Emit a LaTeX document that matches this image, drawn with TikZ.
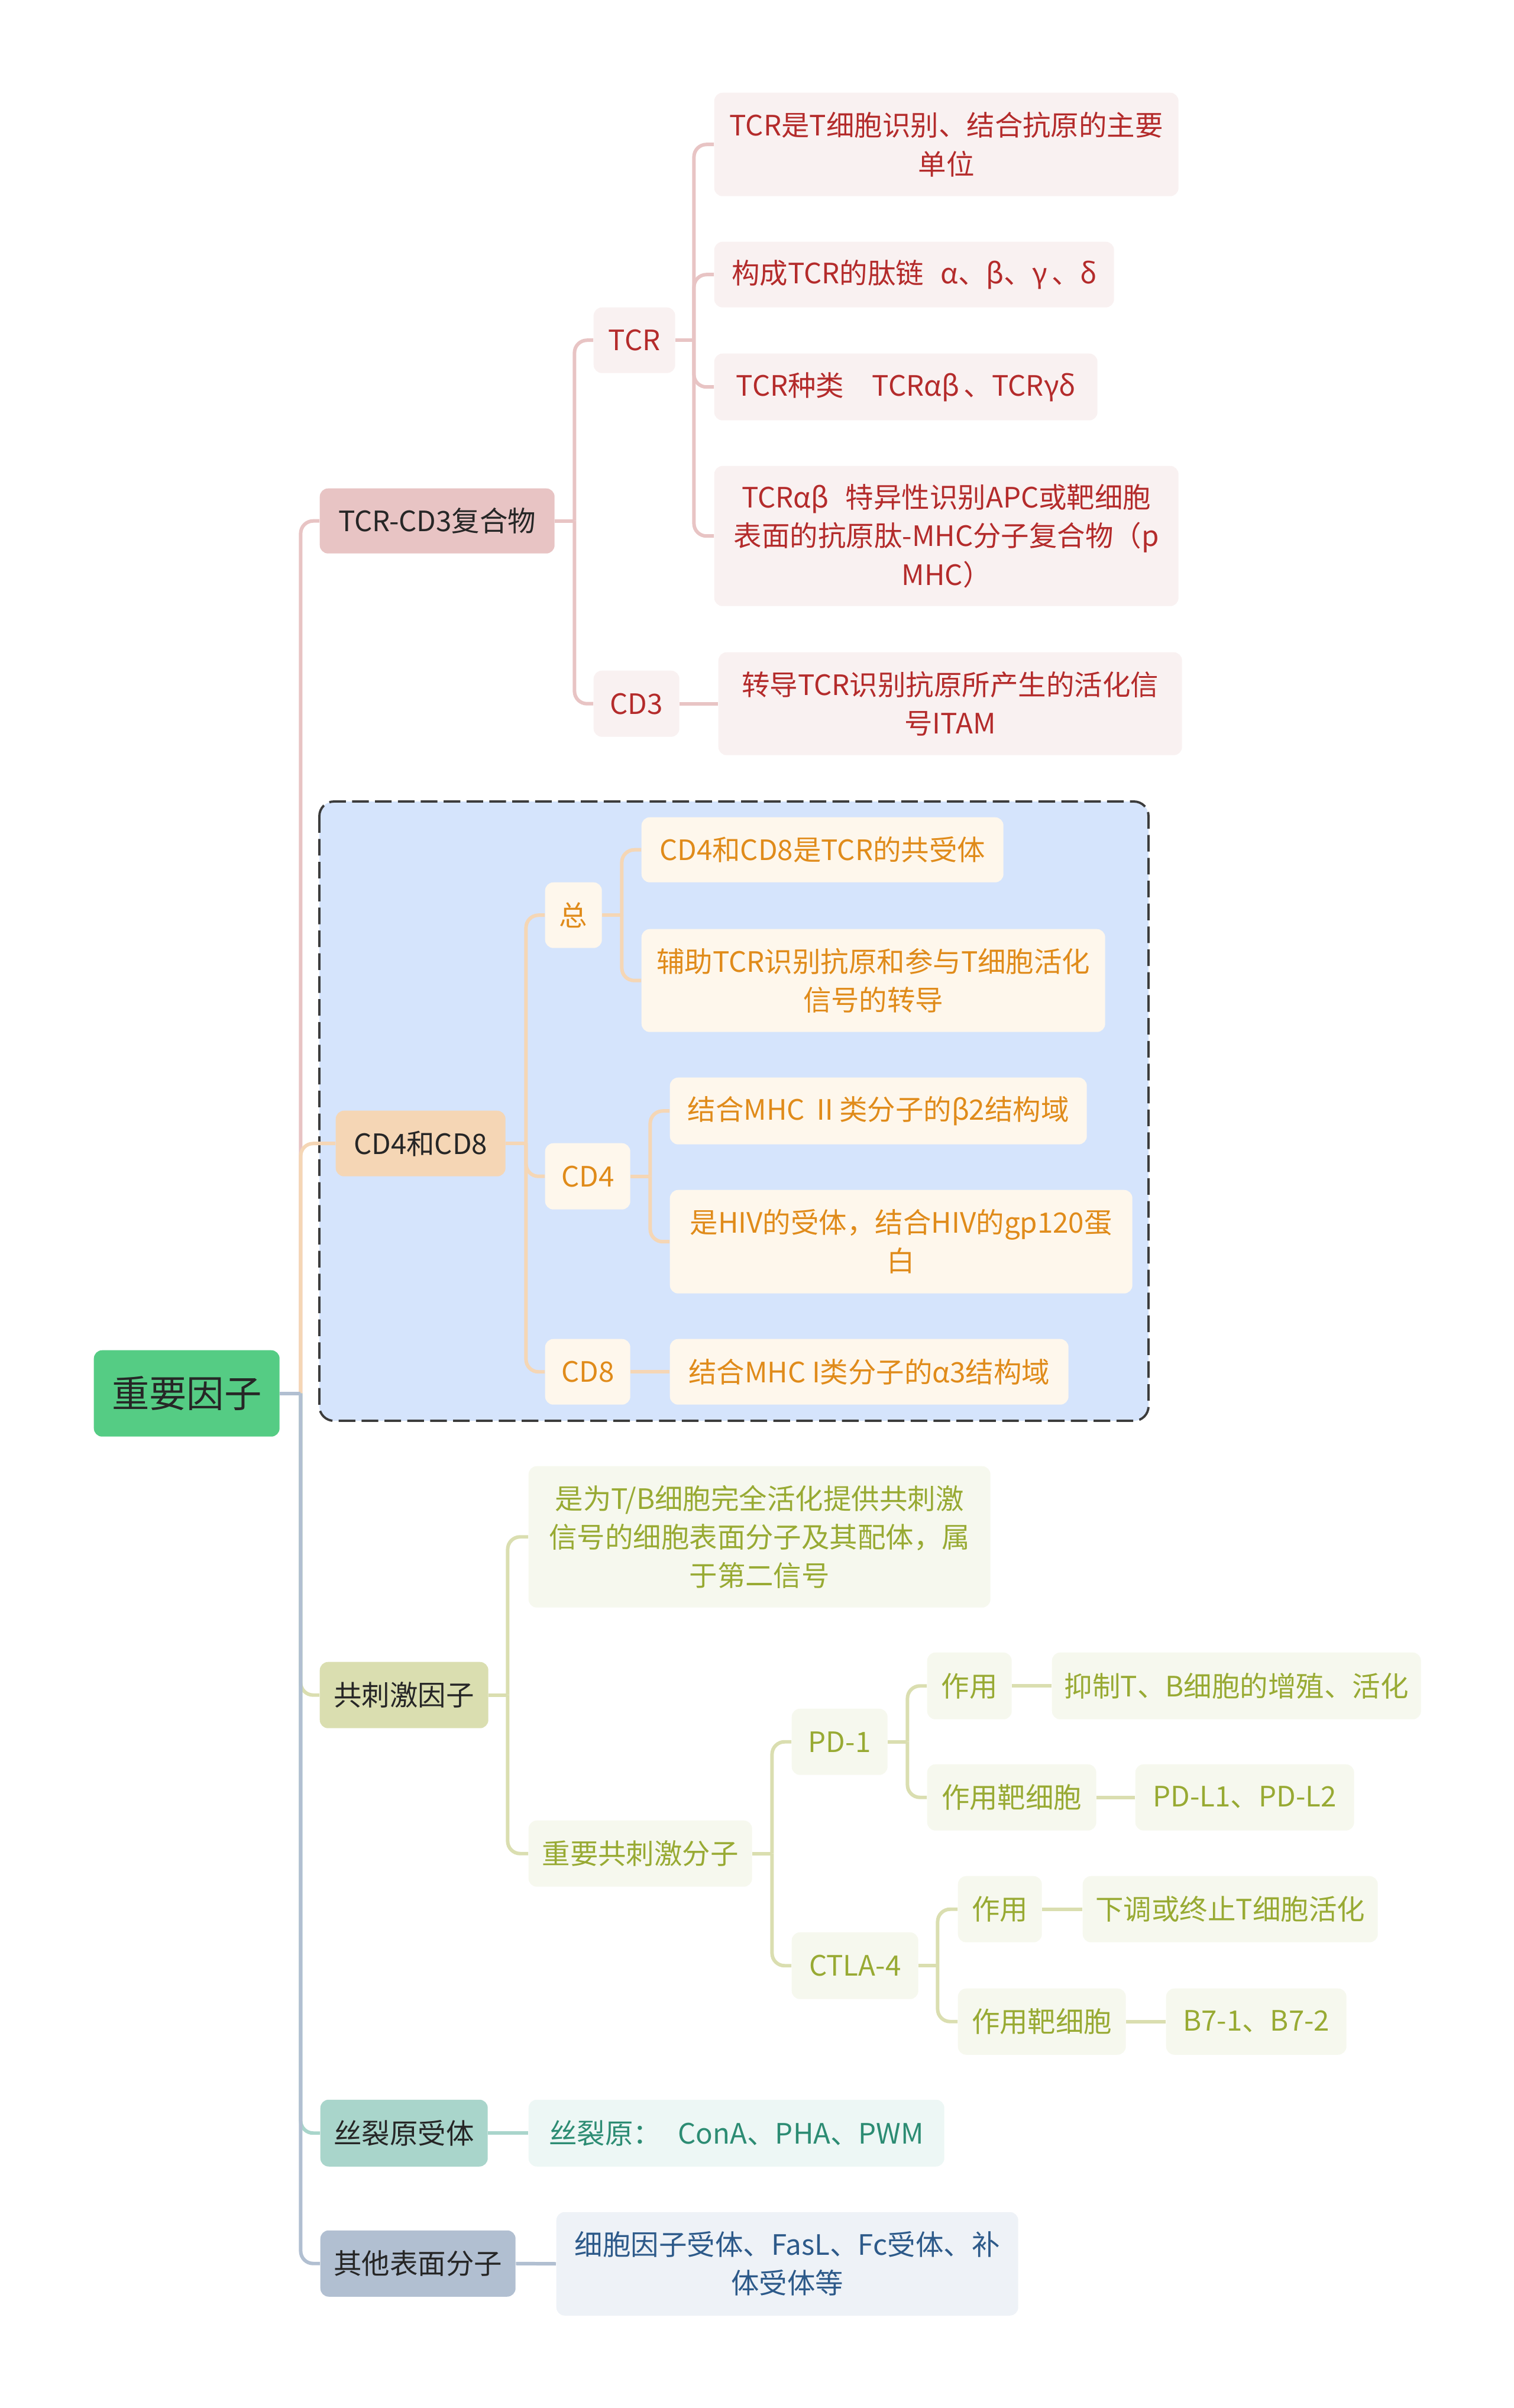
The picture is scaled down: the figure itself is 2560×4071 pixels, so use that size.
\documentclass[tikz,border=0pt]{standalone}
\usepackage{fontspec}
\setmainfont{Noto Sans CJK SC}
\usetikzlibrary{calc}
\definecolor{ink}{HTML}{262626}
\definecolor{rootG}{HTML}{55CC84}
\definecolor{pkD}{HTML}{E8C4C4}\definecolor{pkL}{HTML}{F9F1F1}\definecolor{pkT}{HTML}{B42B2B}
\definecolor{orD}{HTML}{F5D6B5}\definecolor{orL}{HTML}{FEF7EC}\definecolor{orT}{HTML}{E08B1A}
\definecolor{olD}{HTML}{DADEB0}\definecolor{olL}{HTML}{F6F8EE}\definecolor{olT}{HTML}{98AA33}
\definecolor{tlD}{HTML}{A9D5CB}\definecolor{tlL}{HTML}{EDF7F5}\definecolor{tlT}{HTML}{2C8C73}
\definecolor{blD}{HTML}{B1BFD1}\definecolor{blL}{HTML}{EEF2F7}\definecolor{blT}{HTML}{2D5A8A}
\definecolor{regionF}{HTML}{D5E4FC}

\begin{document}
\begin{tikzpicture}[x=0.01cm, y=-0.01cm, font=\fontsize{13.5}{18.5}\selectfont,
		nbox/.style={rounded corners=4pt, inner sep=0pt, align=center, anchor=north west},
		sz/.style 2 args={minimum width=#1*0.01cm, minimum height=#2*0.01cm},
		rootbox/.style={nbox, fill=rootG, text=ink, font=\fontsize{18}{22}\selectfont},
		catbox/.style={nbox, fill=#1, text=ink},
		leafbox/.style 2 args={nbox, fill=#1, text=#2},
		redleaf/.style={leafbox={pkL}{pkT}},
		orgleaf/.style={leafbox={orL}{orT}},
		olvleaf/.style={leafbox={olL}{olT}},
		tealleaf/.style={leafbox={tlL}{tlT}},
		blueleaf/.style={leafbox={blL}{blT}},
		link/.style={draw=#1, line width=1.7pt, rounded corners=6pt},
		regionbox/.style={fill=regionF, draw=ink!90, line width=1.1pt, dash pattern=on 8pt off 3pt, rounded corners=7pt}]
	\useasboundingbox (0,0) rectangle (2560,4071);
	% dashed group behind CD4/CD8
	\draw[regionbox] (540,1355) rectangle (1942,2402);
	% root
	\node[rootbox, sz={314}{146}] (root) at (158,2282) {重要因子};
	% TCR-CD3
	\node[catbox=pkD, sz={397}{110}] (tcd) at (540,825) {TCR-CD3复合物};
	\node[redleaf, sz={138}{111}] (tcr) at (1003,519) {TCR};
	\node[redleaf, sz={145}{112}] (cd3) at (1003,1133) {CD3};
	\node[redleaf, sz={785}{175}] (tcr1) at (1207,156) {TCR是T细胞识别、结合抗原的主要\\单位};
	\node[redleaf, sz={676}{111}] (tcr2) at (1207,408) {构成TCR的肽链\hspace{0.6em}α、β、γ\,、δ};
	\node[redleaf, sz={648}{113}] (tcr3) at (1207,597) {TCR种类\hspace{1em}TCRαβ\,、TCRγδ};
	\node[redleaf, sz={785}{237}] (tcr4) at (1207,787) {TCRαβ\hspace{0.6em}特异性识别APC或靶细胞\\表面的抗原肽-MHC分子复合物（p\\MHC）};
	\node[redleaf, sz={784}{174}] (cd3a) at (1214,1102) {转导TCR识别抗原所产生的活化信\\号ITAM};
	% CD4 / CD8
	\node[catbox=orD, sz={287}{111}] (cd48) at (567,1877) {CD4和CD8};
	\node[orgleaf, sz={96}{111}] (zong) at (921,1491) {总};
	\node[orgleaf, sz={144}{112}] (cd4) at (921,1932) {CD4};
	\node[orgleaf, sz={144}{111}] (cd8) at (921,2263) {CD8};
	\node[orgleaf, sz={612}{110}] (zong1) at (1084,1381) {CD4和CD8是TCR的共受体};
	\node[orgleaf, sz={784}{174}] (zong2) at (1084,1570) {辅助TCR识别抗原和参与T细胞活化\\信号的转导};
	\node[orgleaf, sz={705}{113}] (cd4a) at (1132,1821) {结合MHC Ⅱ类分子的β2结构域};
	\node[orgleaf, sz={782}{175}] (cd4b) at (1132,2011) {是HIV的受体，结合HIV的gp120蛋\\白};
	\node[orgleaf, sz={674}{111}] (cd8a) at (1132,2263) {结合MHC I类分子的α3结构域};
	% co-stimulation
	\node[catbox=olD, sz={285}{112}] (cost) at (540,2809) {共刺激因子};
	\node[olvleaf, sz={781}{239}] (cost1) at (893,2478) {是为T/B细胞完全活化提供共刺激\\信号的细胞表面分子及其配体，属\\于第二信号};
	\node[olvleaf, sz={378}{112}] (cost2) at (893,3077) {重要共刺激分子};
	\node[olvleaf, sz={162}{112}] (pd) at (1338,2888) {PD-1};
	\node[olvleaf, sz={214}{113}] (ctla) at (1338,3266) {CTLA-4};
	\node[olvleaf, sz={143}{113}] (pda) at (1567,2793) {作用};
	\node[olvleaf, sz={624}{113}] (pdb) at (1778,2793) {抑制T、B细胞的增殖、活化};
	\node[olvleaf, sz={286}{112}] (pdc) at (1567,2982) {作用靶细胞};
	\node[olvleaf, sz={370}{112}] (pdd) at (1919,2982) {PD-L1、PD-L2};
	\node[olvleaf, sz={142}{112}] (cta) at (1619,3171) {作用};
	\node[olvleaf, sz={499}{112}] (ctb) at (1830,3171) {下调或终止T细胞活化};
	\node[olvleaf, sz={284}{112}] (ctc) at (1619,3361) {作用靶细胞};
	\node[olvleaf, sz={305}{112}] (ctd) at (1971,3361) {B7-1、B7-2};
	% mitogen / others
	\node[catbox=tlD, sz={283}{113}] (mito) at (541,3549) {丝裂原受体};
	\node[tealleaf, sz={703}{113}] (mito1) at (893,3549) {丝裂原：\hspace{0.6em}ConA、PHA、PWM};
	\node[catbox=blD, sz={330}{112}] (other) at (541,3770) {其他表面分子};
	\node[blueleaf, sz={781}{175}] (other1) at (940,3739) {细胞因子受体、FasL、Fc受体、补\\体受体等};

	% connectors
	\coordinate (jr) at ($(root.east)+(35,0)$);
	\foreach \c/\col in {tcd/pkD, cd48/orD, cost/olD, mito/tlD, other/blD}
		\draw[link=\col] (jr) |- (\c.west);
	\draw[link=blD] (root.east) -- (jr);
	\draw[link=pkD] (tcd.east) -- ++(33,0) coordinate (j1);
	\foreach \c in {tcr,cd3} \draw[link=pkD] (j1) |- (\c.west);
	\draw[link=pkD] (tcr.east) -- ++(31,0) coordinate (j2);
	\foreach \c in {tcr1,tcr2,tcr3,tcr4} \draw[link=pkD] (j2) |- (\c.west);
	\draw[link=pkD] (cd3.east) -- (cd3a.west);
	\draw[link=orD] (cd48.east) -- ++(34,0) coordinate (j3);
	\foreach \c in {zong,cd4,cd8} \draw[link=orD] (j3) |- (\c.west);
	\draw[link=orD] (zong.east) -- ++(33,0) coordinate (j4);
	\foreach \c in {zong1,zong2} \draw[link=orD] (j4) |- (\c.west);
	\draw[link=orD] (cd4.east) -- ++(33,0) coordinate (j5);
	\foreach \c in {cd4a,cd4b} \draw[link=orD] (j5) |- (\c.west);
	\draw[link=orD] (cd8.east) -- (cd8a.west);
	\draw[link=olD] (cost.east) -- ++(32,0) coordinate (j6);
	\foreach \c in {cost1,cost2} \draw[link=olD] (j6) |- (\c.west);
	\draw[link=olD] (cost2.east) -- ++(33,0) coordinate (j7);
	\foreach \c in {pd,ctla} \draw[link=olD] (j7) |- (\c.west);
	\draw[link=olD] (pd.east) -- ++(33,0) coordinate (j8);
	\foreach \c in {pda,pdc} \draw[link=olD] (j8) |- (\c.west);
	\draw[link=olD] (ctla.east) -- ++(32,0) coordinate (j9);
	\foreach \c in {cta,ctc} \draw[link=olD] (j9) |- (\c.west);
	\draw[link=olD] (pda.east) -- (pdb.west);
	\draw[link=olD] (pdc.east) -- (pdd.west);
	\draw[link=olD] (cta.east) -- (ctb.west);
	\draw[link=olD] (ctc.east) -- (ctd.west);
	\draw[link=tlD] (mito.east) -- (mito1.west);
	\draw[link=blD] (other.east) -- (other1.west);
\end{tikzpicture}
\end{document}
